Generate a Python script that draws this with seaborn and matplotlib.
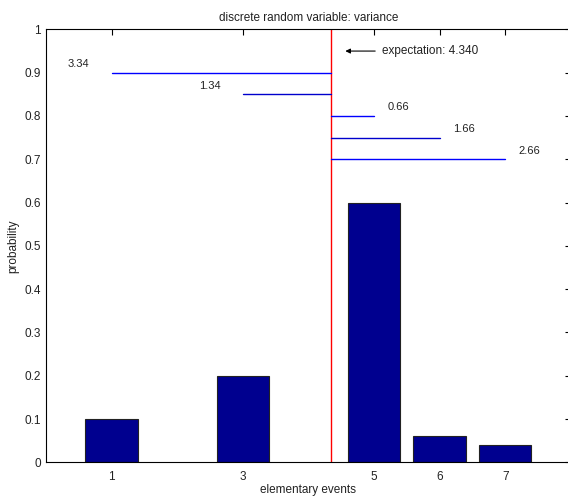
import numpy as np
import matplotlib
matplotlib.use("Agg")
import matplotlib.pyplot as plt
import seaborn as sns

# data
events = [1, 3, 5, 6, 7]
probs = [0.10, 0.20, 0.60, 0.06, 0.04]
levels = [0.90, 0.85, 0.80, 0.75, 0.70]
line_colors = ["#0000ff", "#0000cc", "#0000ff", "#0000cc", "#0000ff"]

expectation = float(np.dot(events, probs))
distances = [abs(e - expectation) for e in events]

sns.set_style("white")
plt.rcParams["font.family"] = ["Liberation Sans", "DejaVu Sans"]

fig = plt.figure(figsize=(5.68, 4.97), dpi=100)
ax = fig.add_axes([0.081, 0.0698, 0.924, 0.871])

sns.barplot(x=events, y=probs, native_scale=True, color="#00008f",
            saturation=1, edgecolor="#222222", linewidth=0.8, ax=ax)

ax.axvline(expectation, color="red", lw=1)

for e, lev, d, c in zip(events, levels, distances, line_colors):
    ax.plot([e, expectation], [lev, lev], color=c, lw=1)
    if e < expectation:
        tx = e - 0.5
    else:
        tx = e + 0.37
    ax.text(tx, lev + 0.02, f"{d:.2f}", fontsize=8, ha="center", va="center",
            color="#222222")

ax.annotate("", xy=(expectation + 0.18, 0.95), xytext=(expectation + 0.72, 0.95),
            arrowprops=dict(arrowstyle="-|>", color="black", lw=0.8,
                            mutation_scale=7))
ax.text(expectation + 0.78, 0.95, f"expectation: {expectation:.3f}",
        fontsize=8.5, ha="left", va="center", color="#222222")

ax.set_xlim(0, 8)
ax.set_ylim(0, 1)
ax.set_xticks(events)
ax.set_xticklabels([str(e) for e in events])
ax.set_yticks(np.arange(0, 1.01, 0.1))
ax.set_yticklabels(["0"] + [f"{v:.1f}" for v in np.arange(0.1, 0.95, 0.1)] + ["1"])
ax.tick_params(direction="in", length=4, width=0.8, labelsize=8.5,
               top=True, right=True, colors="black", labelcolor="#222222")
ax.tick_params(axis="x", pad=6)
for sp in ax.spines.values():
    sp.set_visible(True)
    sp.set_color("black")
    sp.set_linewidth(0.8)

ax.set_xlabel("elementary events", fontsize=8.5, labelpad=1, color="#222222")
ax.set_ylabel("probability", fontsize=8.5, labelpad=4, color="#222222")
ax.set_title("discrete random variable: variance", fontsize=8.5, pad=6,
             color="#222222")

fig.savefig("out.png", dpi=100, facecolor="white")
